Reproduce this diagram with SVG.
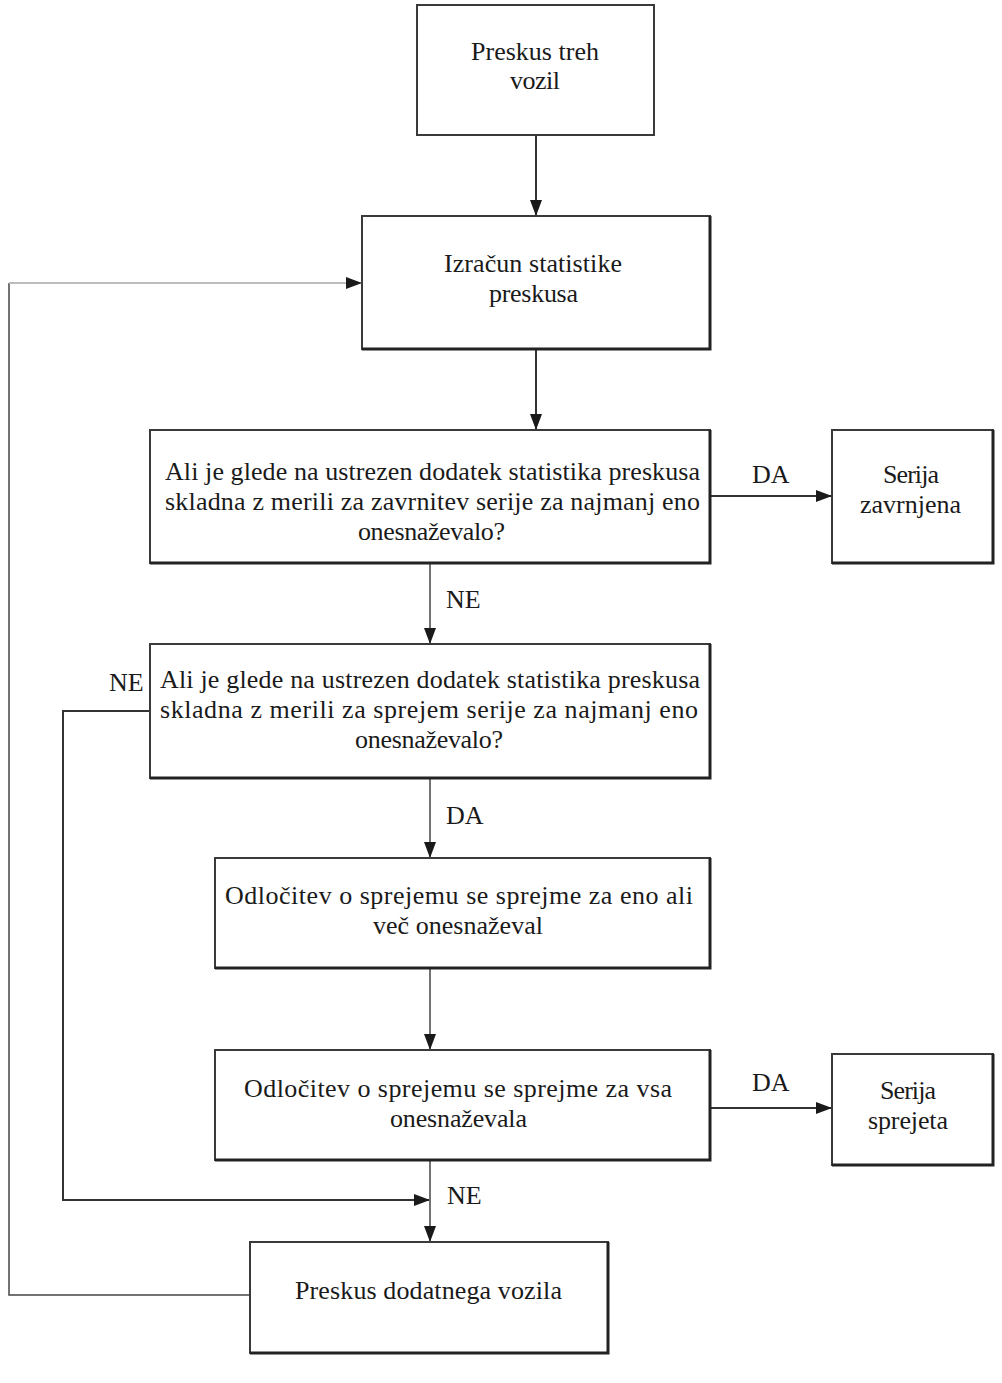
<svg xmlns="http://www.w3.org/2000/svg" width="1002" height="1383" viewBox="0 0 1002 1383">
<style>
.box{fill:#fff;stroke:#3a3a3a;stroke-width:2}
.sh{fill:none;stroke:#222;stroke-width:3}
.t{font-family:"Liberation Serif","Times New Roman","DejaVu Serif",serif;font-size:26px;fill:#1a1a1a}
.ln{fill:none;stroke:#333;stroke-width:2}
.lg{fill:none;stroke:#444;stroke-width:1.5}
</style>
<defs>
<marker id="ah" markerUnits="userSpaceOnUse" markerWidth="16" markerHeight="12" refX="15" refY="6" orient="auto">
<path d="M0,0 L16,6 L0,12 Z" fill="#1a1a1a"/>
</marker>
</defs>
<g id="connectors">
<line class="ln" x1="536" y1="136" x2="536" y2="215" marker-end="url(#ah)"/>
<line class="ln" x1="536" y1="350" x2="536" y2="429" marker-end="url(#ah)"/>
<line class="ln" x1="711" y1="496" x2="831" y2="496" marker-end="url(#ah)"/>
<line class="lg" x1="430" y1="564" x2="430" y2="643" marker-end="url(#ah)"/>
<polyline class="ln" points="149,711 63,711 63,1200 429,1200" marker-end="url(#ah)"/>
<line class="lg" x1="430" y1="779" x2="430" y2="857" marker-end="url(#ah)"/>
<line class="lg" x1="430" y1="969" x2="430" y2="1049" marker-end="url(#ah)"/>
<line class="ln" x1="711" y1="1108" x2="831" y2="1108" marker-end="url(#ah)"/>
<line class="lg" x1="430" y1="1161" x2="430" y2="1241" marker-end="url(#ah)"/>
<polyline fill="none" stroke="#444" stroke-width="1.5" points="249,1295 9,1295 9,283"/>
<line x1="9" y1="283" x2="361" y2="283" stroke="#bdbdbd" stroke-width="2" marker-end="url(#ah)"/>
<text class="t" x="752" y="483">DA</text>
<text class="t" x="446" y="608">NE</text>
<text class="t" x="109" y="691">NE</text>
<text class="t" x="446" y="824">DA</text>
<text class="t" x="752" y="1091">DA</text>
<text class="t" x="447" y="1204">NE</text>
</g>
<g id="n1">
<rect class="box" x="417" y="5" width="237" height="130"/>
<text class="t" x="471" y="60" textLength="128">Preskus treh</text>
<text class="t" x="510" y="89" textLength="50">vozil</text>
</g>
<g id="n2">
<rect class="box" x="362" y="216" width="348" height="133"/>
<polyline class="sh" points="362,349 710,349 710,216"/>
<text class="t" x="444" y="272" textLength="178">Izračun statistike</text>
<text class="t" x="489" y="302" textLength="89">preskusa</text>
</g>
<g id="n3">
<rect class="box" x="150" y="430" width="560" height="133"/>
<polyline class="sh" points="150,563 710,563 710,430"/>
<text class="t" x="165" y="480" textLength="535">Ali je glede na ustrezen dodatek statistika preskusa</text>
<text class="t" x="165" y="510" textLength="535">skladna z merili za zavrnitev serije za najmanj eno</text>
<text class="t" x="358" y="540" textLength="147">onesnaževalo?</text>
</g>
<g id="n4">
<rect class="box" x="832" y="430" width="161" height="133"/>
<polyline class="sh" points="832,563 993,563 993,430"/>
<text class="t" x="883" y="483" textLength="56">Serija</text>
<text class="t" x="860" y="513" textLength="101">zavrnjena</text>
</g>
<g id="n5">
<rect class="box" x="150" y="644" width="560" height="134"/>
<polyline class="sh" points="150,778 710,778 710,644"/>
<text class="t" x="160" y="688" textLength="540">Ali je glede na ustrezen dodatek statistika preskusa</text>
<text class="t" x="160" y="718" textLength="538">skladna z merili za sprejem serije za najmanj eno</text>
<text class="t" x="355" y="748" textLength="148">onesnaževalo?</text>
</g>
<g id="n6">
<rect class="box" x="215" y="858" width="495" height="110"/>
<polyline class="sh" points="215,968 710,968 710,858"/>
<text class="t" x="225" y="904" textLength="468">Odločitev o sprejemu se sprejme za eno ali</text>
<text class="t" x="373" y="934" textLength="170">več onesnaževal</text>
</g>
<g id="n7">
<rect class="box" x="215" y="1050" width="495" height="110"/>
<polyline class="sh" points="215,1160 710,1160 710,1050"/>
<text class="t" x="244" y="1097" textLength="428">Odločitev o sprejemu se sprejme za vsa</text>
<text class="t" x="390" y="1127" textLength="137">onesnaževala</text>
</g>
<g id="n8">
<rect class="box" x="832" y="1054" width="161" height="111"/>
<polyline class="sh" points="832,1165 993,1165 993,1054"/>
<text class="t" x="880" y="1099" textLength="56">Serija</text>
<text class="t" x="868" y="1129" textLength="80">sprejeta</text>
</g>
<g id="n9">
<rect class="box" x="250" y="1242" width="358" height="111"/>
<polyline class="sh" points="250,1353 608,1353 608,1242"/>
<text class="t" x="295" y="1299" textLength="267">Preskus dodatnega vozila</text>
</g>
</svg>
